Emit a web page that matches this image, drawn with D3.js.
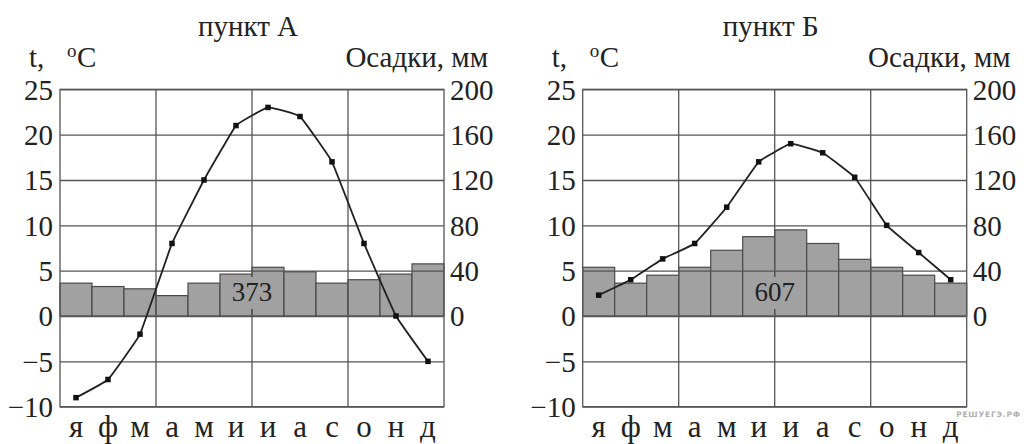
<!DOCTYPE html>
<html>
<head>
<meta charset="utf-8">
<script src="https://cdn.jsdelivr.net/npm/d3@7"></script>
<style>
  html, body { margin: 0; padding: 0; background: #fff; }
  svg { display: block; }
  svg text { font-family: "Liberation Serif", "Times New Roman", Times, serif; fill: #222; }
  svg text.mark { font-family: "DejaVu Sans", sans-serif; fill: #b0b0b0; }
  .grid line { stroke: #555; stroke-width: 1.3; }
</style>
</head>
<body>
<svg id="chart" width="1026" height="444"></svg>
<script>
const months = ['я', 'ф', 'м', 'а', 'м', 'и', 'и', 'а', 'с', 'о', 'н', 'д']
const tempTicks = [-10, -5, 0, 5, 10, 15, 20, 25]
const rainTicks = [0, 40, 80, 120, 160, 200]

// пункт А
const tempA = [-9, -7, -2, 8, 15, 21, 23, 22, 17, 8, 0, -5]
const rainA = [29, 26, 24, 18, 29, 37, 43, 39, 29, 32, 37, 46]
const totalA = '373'

// пункт Б
const tempB = [2.3, 4, 6.3, 8, 12, 17, 19, 18, 15.3, 10, 7, 4]
const rainB = [43, 29, 36, 43, 58, 70, 76, 64, 50, 43, 36, 29]
const totalB = '607'

const svg = d3.select('#chart')
const plotW = 384
const plotTop = 89.3
const plotBottom = 406.7
const fontSize = 29

/**
 * One climate diagram: precipitation bars, temperature line, two y axes
 */
function drawPanel (left, title, temps, rains, total) {
  const g = svg.append('g').attr('transform', `translate(${left},0)`)
  const x = d3.scaleBand().domain(d3.range(12)).range([0, plotW])
  const yT = d3.scaleLinear().domain([-10, 25]).range([plotBottom, plotTop])
  const yR = d3.scaleLinear().domain([0, 200]).range([yT(0), yT(25)])

  // bars first, grid goes over them
  g.selectAll('rect.bar')
    .data(rains)
    .join('rect')
    .attr('class', 'bar')
    .attr('x', (d, i) => x(i))
    .attr('y', d => yR(d))
    .attr('width', x.bandwidth())
    .attr('height', d => yR(0) - yR(d))
    .attr('fill', '#a1a1a1')
    .attr('stroke', '#4a4a4a')
    .attr('stroke-width', 1.2)

  // horizontal grid + left labels
  const leftAxis = g.append('g').attr('class', 'grid')
    .call(d3.axisLeft(yT).tickValues(tempTicks).tickSize(-plotW).tickPadding(7).tickFormat(d3.format('d')))
  leftAxis.select('.domain').remove()
  leftAxis.selectAll('text').attr('font-size', fontSize).attr('dy', '0.34em')

  // right labels only
  const rightAxis = g.append('g').attr('transform', `translate(${plotW},0)`)
    .call(d3.axisRight(yR).tickValues(rainTicks).tickSize(0).tickPadding(6))
  rightAxis.select('.domain').remove()
  rightAxis.selectAll('text').attr('font-size', fontSize).attr('dy', '0.34em')

  // vertical grid every quarter
  g.selectAll('line.vgrid')
    .data([3, 6, 9])
    .join('line')
    .attr('class', 'vgrid')
    .attr('x1', d => x(d)).attr('x2', d => x(d))
    .attr('y1', plotTop).attr('y2', plotBottom)
    .attr('stroke', '#555').attr('stroke-width', 1.3)

  g.append('rect')
    .attr('x', 0).attr('y', plotTop).attr('width', plotW).attr('height', plotBottom - plotTop)
    .attr('fill', 'none').attr('stroke', '#555').attr('stroke-width', 1.3)

  // month letters
  const bottomAxis = g.append('g').attr('transform', `translate(0,${plotBottom})`)
    .call(d3.axisBottom(x).tickSize(0).tickPadding(10).tickFormat(i => months[i]))
  bottomAxis.select('.domain').remove()
  bottomAxis.selectAll('text').attr('font-size', 31).attr('dy', '0.66em')

  // total precipitation label with bar-coloured backing
  const label = g.append('g')
  const labelText = label.append('text')
    .attr('x', plotW / 2).attr('y', yT(0) - 15)
    .attr('text-anchor', 'middle')
    .attr('font-size', 27)
    .text(total)
  const bb = labelText.node().getBBox()
  label.insert('rect', 'text')
    .attr('x', bb.x - 1).attr('y', bb.y).attr('width', bb.width + 2).attr('height', bb.height + 2)
    .attr('fill', '#a1a1a1')

  // temperature line, almost straight segments
  const line = d3.line()
    .x((d, i) => x(i) + x.bandwidth() / 2)
    .y(d => yT(d))
    .curve(d3.curveCardinal.tension(0.75))
  g.append('path')
    .datum(temps)
    .attr('d', line)
    .attr('fill', 'none')
    .attr('stroke', '#222')
    .attr('stroke-width', 1.8)
  g.selectAll('rect.pt')
    .data(temps)
    .join('rect')
    .attr('class', 'pt')
    .attr('x', (d, i) => x(i) + x.bandwidth() / 2 - 2.75)
    .attr('y', d => yT(d) - 2.75)
    .attr('width', 5.5).attr('height', 5.5)
    .attr('fill', '#111')

  // headings
  g.append('text')
    .attr('x', plotW / 2 - 4).attr('y', 36)
    .attr('text-anchor', 'middle')
    .attr('font-size', fontSize)
    .text(title)
  const unitT = g.append('text')
    .attr('y', 67)
    .attr('font-size', fontSize)
  unitT.append('tspan').attr('x', -31).text('t,')
  unitT.append('tspan').attr('x', 7).attr('font-size', 19).attr('dy', -10).text('o')
  unitT.append('tspan').attr('x', 17).attr('dy', 10).text('C')
  g.append('text')
    .attr('x', plotW + 44).attr('y', 67)
    .attr('text-anchor', 'end')
    .attr('font-size', fontSize)
    .text('Осадки, мм')
}

drawPanel(60, 'пункт А', tempA, rainA, totalA)
drawPanel(582.7, 'пункт Б', tempB, rainB, totalB)

svg.append('text')
  .attr('class', 'mark')
  .attr('x', 1021).attr('y', 417)
  .attr('text-anchor', 'end')
  .attr('font-weight', 'bold')
  .attr('font-size', 7.5)
  .attr('letter-spacing', 0.8)
  .text('РЕШУЕГЭ.РФ')
</script>
</body>
</html>
